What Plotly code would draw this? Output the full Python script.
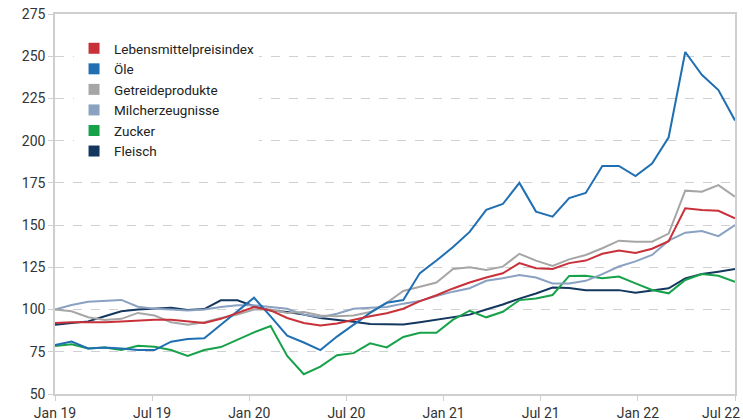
import numpy as np
import pandas as pd
import plotly.graph_objects as go

# Monthly observations (Jan 2019 ... Jun 2022), 42 points
months = pd.date_range("2019-01-01", periods=42, freq="MS").strftime("%Y-%m").tolist()
tick_labels = ["Jan 19", "Jul 19", "Jan 20", "Jul 20", "Jan 21", "Jul 21", "Jan 22", "Jul 22"]

lebensmittel = [92, 92.5, 92.5, 92.5, 93, 93.5, 94, 94, 93, 92, 94.5, 98,
                101.5, 99.5, 95, 92, 90.5, 91.8, 94, 96, 97.8, 100.5, 105, 108.5,
                112.5, 116, 119, 121.5, 127.5, 124.5, 124, 127.5, 129, 133, 135, 133.5,
                136, 140.5, 160, 159, 158.5, 154]
oele = [79, 81, 77, 77.5, 77, 76, 76, 81, 82.5, 83, 91, 99,
        107, 96, 84.5, 80.5, 76, 84, 91, 98, 104, 105.6, 121.6, 129,
        137, 146, 159, 162.5, 175, 158, 155, 166, 169, 185, 185, 179,
        186.5, 202, 252.5, 239, 230, 212]
getreide = [100, 99, 95.5, 93.8, 94.5, 98, 96.5, 92.5, 91, 92.5, 95, 97,
            100, 100, 98, 98.5, 96.5, 96, 96.5, 98.5, 104, 111, 113.5, 116,
            124, 125, 123.4, 125.4, 133, 129, 125.8, 129.7, 132.3, 136.3, 140.8, 140.2,
            140.2, 145, 170.4, 169.8, 173.7, 166.8]
milch = [100, 102.7, 104.6, 105.2, 105.7, 101.7, 100.5, 100, 99.5, 100, 101.5, 102.5,
         102.5, 101.5, 100.5, 97, 95.5, 97.5, 100.5, 101, 101.5, 103.5, 105, 108,
         110.6, 112.6, 117, 118.5, 120.5, 119, 115.5, 115.5, 117, 121, 125.5, 128.5,
         132.3, 140.8, 145.5, 146.5, 143.5, 150]
zucker = [78.4, 79.5, 77, 77.5, 76, 78.5, 78, 76, 72.5, 76, 77.8, 82,
          86.5, 90.2, 72.5, 61.7, 66.2, 73, 74.2, 80, 77.6, 83.8, 86.3, 86.2,
          94, 99.3, 95.4, 98.7, 105.6, 106.6, 108.6, 119.9, 120, 118.5, 119.5, 115.5,
          111.6, 109.6, 117.5, 121, 120, 116.5]
fleisch = [91, 92, 93, 96, 99, 100, 100.7, 101, 99.8, 100.3, 105.5, 105.5,
           102, 99.5, 98.5, 97, 95, 94, 92.8, 91.5, 91.2, 91.2, 92.5, 94,
           95.5, 97, 100, 103, 106.5, 109.5, 113, 112.7, 111.5, 111.3, 111.5, 110,
           111.3, 112.6, 118.5, 121, 122.4, 124]

series = [
    ("Lebensmittelpreisindex", lebensmittel, "#c8313a"),
    ("Öle", oele, "#1f6fb2"),
    ("Getreideprodukte", getreide, "#a6a6a6"),
    ("Milcherzeugnisse", milch, "#8aa1c1"),
    ("Zucker", zucker, "#17a24a"),
    ("Fleisch", fleisch, "#14375f"),
]

x = list(range(len(months)))
fig = go.Figure()

# draw lines (back to front so the index lies on top like the reference)
for name, vals, col in reversed(series):
    fig.add_trace(go.Scatter(x=x, y=vals, mode="lines", name=name,
                             line=dict(color=col, width=2), showlegend=False,
                             hoverinfo="skip"))

# legend entries as square swatches
for name, vals, col in series:
    fig.add_trace(go.Scatter(x=[None], y=[None], mode="markers", name=name,
                             marker=dict(symbol="square", size=11, color=col)))

tickvals = np.linspace(0, len(months) - 1, len(tick_labels))
# the last label sits at the right edge; it is drawn right-aligned below its tick
ticktext = tick_labels[:-1] + [""]

tick_font = dict(family="Roboto, Noto Sans, sans-serif", size=14, color="#333333")

fig.update_layout(
    width=743, height=420,
    margin=dict(l=55, r=8, t=14, b=26),
    paper_bgcolor="white", plot_bgcolor="white",
    font=dict(family="Roboto, Noto Sans, sans-serif", size=13, color="#333333"),
    showlegend=True,
    hovermode=False,
    legend=dict(x=0.028, y=0.95, xanchor="left", yanchor="top",
                bgcolor="white", font=dict(size=13.5, color="#222222"),
                tracegroupgap=0, itemwidth=30),
)
fig.add_annotation(x=tickvals[-1], xref="x", y=0, yref="paper",
                   text=tick_labels[-1], showarrow=False,
                   xanchor="right", yanchor="top", xshift=7, yshift=-9,
                   font=tick_font)
fig.update_xaxes(
    range=[0, len(months) - 1], tickvals=tickvals, ticktext=ticktext,
    showgrid=False, zeroline=False,
    showline=True, linecolor="#cfcfcf", linewidth=1.5, mirror=True,
    ticks="outside", ticklen=5, tickcolor="#cfcfcf",
    tickfont=tick_font,
    automargin=False,
)
fig.update_yaxes(
    range=[50, 275], dtick=25, tick0=50,
    showgrid=True, gridcolor="#d0d0d0", griddash="dash", gridwidth=1,
    zeroline=False,
    showline=True, linecolor="#cfcfcf", linewidth=1.5, mirror=True,
    ticks="outside", ticklen=5, tickcolor="#cfcfcf",
    tickfont=tick_font,
    automargin=False,
)

fig.write_html("out.html", config={"displayModeBar": False},
               post_script="document.body.style.margin='0';document.body.style.overflow='hidden';")
